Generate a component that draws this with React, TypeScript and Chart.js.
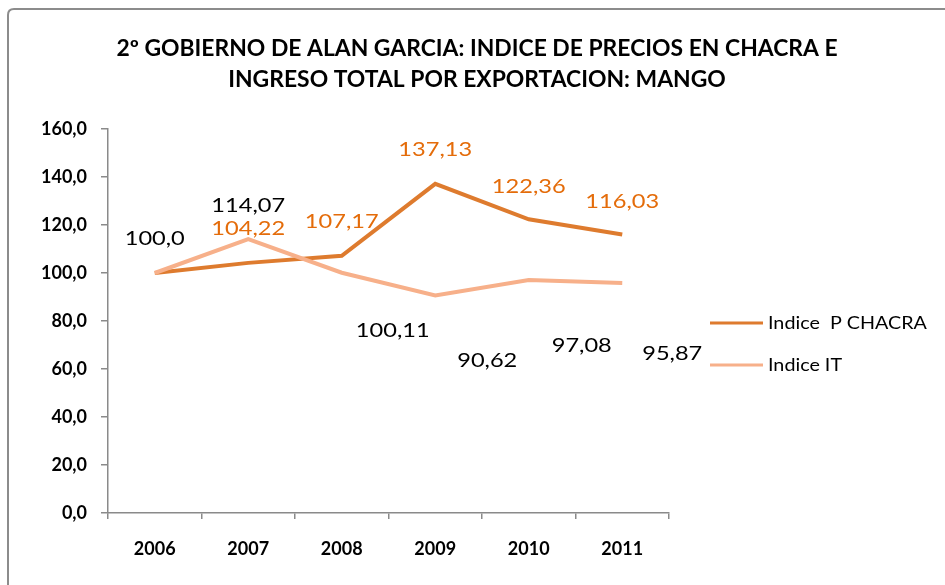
import React, { useEffect, useRef } from "react";
import { Chart, registerables } from "chart.js";

Chart.register(...registerables);

// ---- data ----
const YEARS = ["2006", "2007", "2008", "2009", "2010", "2011"];
const P_CHACRA = [100.0, 104.22, 107.17, 137.13, 122.36, 116.03];
const INDICE_IT = [100.0, 114.07, 100.11, 90.62, 97.08, 95.87];
const P_DECIMALS = [1, 2, 2, 2, 2, 2];
const IT_DECIMALS = [1, 2, 2, 2, 2, 2];
const P_LABEL_SHOWN = [false, true, true, true, true, true];
const IT_LABEL_SHOWN = [true, true, true, true, true, true];
const SERIES_NAMES = ["Indice  P CHACRA", "Indice IT"];
const TITLE_LINES = [
  "2º GOBIERNO DE ALAN GARCIA: INDICE DE PRECIOS EN CHACRA E",
  "INGRESO TOTAL POR EXPORTACION: MANGO",
];
const Y_MIN = 0;
const Y_MAX = 160;
const Y_STEP = 20;

// ---- styles ----
const FONT = "Lato, 'Open Sans', sans-serif";
const COLOR_P = "#DE7B2E";
const COLOR_IT = "#F7B08A";
const LABEL_P = "#E46C0A";
const AXIS = "#8A8A8A";

// label offsets (px) relative to each point, as laid out in the original
const P_OFFSETS = [[0, -34], [0, -34], [0, -34], [0, -34], [0, -33], [0, -33]];
const IT_OFFSETS = [[0, -34], [0, -34], [51, 58], [52, 65], [53, 66], [50, 71]];

const fmt = (v: number, d: number) => v.toFixed(d).replace(".", ",");

function drawText(ctx: CanvasRenderingContext2D, t: string, x: number, y: number, sx: number) {
  ctx.save();
  ctx.translate(x, y);
  ctx.scale(sx, 1);
  ctx.fillText(t, 0, 0);
  ctx.restore();
}

const decorPlugin = {
  id: "decor",
  beforeDraw(chart: any) {
    const ctx = chart.ctx;
    ctx.save();
    ctx.fillStyle = "#ffffff";
    ctx.fillRect(0, 0, chart.width, chart.height);
    ctx.strokeStyle = "#8C8C8C";
    ctx.lineWidth = 2;
    const x = 8, y = 9, w = 960, h = 600, r = 6;
    ctx.beginPath();
    ctx.moveTo(x + w, y);
    ctx.lineTo(x + r, y);
    ctx.quadraticCurveTo(x, y, x, y + r);
    ctx.lineTo(x, y + h);
    ctx.stroke();
    ctx.restore();
  },
  afterDraw(chart: any) {
    const ctx = chart.ctx;
    ctx.save();
    // title
    ctx.fillStyle = "#000";
    ctx.textAlign = "center";
    ctx.textBaseline = "middle";
    ctx.font = `bold 22px ${FONT}`;
    drawText(ctx, TITLE_LINES[0], 477, 49, 1.04);
    drawText(ctx, TITLE_LINES[1], 477, 80, 1.04);

    // data labels
    ctx.font = `20px ${FONT}`;
    const drawLabels = (dsIndex: number, values: number[], dec: number[], shown: boolean[], offs: number[][], color: string) => {
      const meta = chart.getDatasetMeta(dsIndex);
      meta.data.forEach((pt: any, i: number) => {
        if (!shown[i]) return;
        ctx.fillStyle = color;
        drawText(ctx, fmt(values[i], dec[i]), pt.x + offs[i][0], pt.y + offs[i][1], 1.18);
      });
    };
    drawLabels(0, P_CHACRA, P_DECIMALS, P_LABEL_SHOWN, P_OFFSETS, LABEL_P);
    drawLabels(1, INDICE_IT, IT_DECIMALS, IT_LABEL_SHOWN, IT_OFFSETS, "#000");

    // legend
    const lx = 710, ly = [323, 365];
    const cols = [COLOR_P, COLOR_IT];
    ctx.font = `17px ${FONT}`;
    ctx.textAlign = "left";
    for (let i = 0; i < 2; i++) {
      ctx.strokeStyle = cols[i];
      ctx.lineWidth = 3;
      ctx.beginPath();
      ctx.moveTo(lx, ly[i]);
      ctx.lineTo(lx + 53, ly[i]);
      ctx.stroke();
      ctx.fillStyle = "#000";
      drawText(ctx, SERIES_NAMES[i], lx + 58, ly[i] + 1, 1.16);
    }
    ctx.restore();
  },
};

export default function App() {
  const ref = useRef<HTMLCanvasElement | null>(null);
  useEffect(() => {
    if (!ref.current) return;
    const chart = new Chart(ref.current, {
      type: "line",
      data: {
        labels: YEARS,
        datasets: [
          {
            label: SERIES_NAMES[0],
            data: P_CHACRA,
            borderColor: COLOR_P,
            backgroundColor: COLOR_P,
            borderWidth: 4,
            pointRadius: 0,
            tension: 0,
            order: 1,
          },
          {
            label: SERIES_NAMES[1],
            data: INDICE_IT,
            borderColor: COLOR_IT,
            backgroundColor: COLOR_IT,
            borderWidth: 4,
            pointRadius: 0,
            tension: 0,
            order: 0,
          },
        ],
      },
      options: {
        animation: false,
        responsive: false,
        devicePixelRatio: 1,
        layout: { padding: { top: 129, right: 276, left: 0, bottom: 0 } },
        plugins: {
          legend: { display: false },
          title: { display: false },
          tooltip: { enabled: false },
        },
        scales: {
          x: {
            type: "category",
            offset: true,
            grid: {
              display: true,
              drawOnChartArea: false,
              drawTicks: true,
              tickLength: 6,
              color: AXIS,
              lineWidth: 1.5,
              offset: true,
            },
            border: { color: AXIS, width: 1.5 },
            ticks: {
              color: "#000",
              font: { family: FONT, size: 18, weight: "bold" },
              padding: 19,
              maxRotation: 0,
              autoSkip: false,
            },
            afterFit: (s: any) => {
              s.height = 72;
            },
          },
          y: {
            min: Y_MIN,
            max: Y_MAX,
            grid: {
              display: true,
              drawOnChartArea: false,
              drawTicks: true,
              tickLength: 7,
              color: AXIS,
              lineWidth: 1.5,
            },
            border: { color: AXIS, width: 1.5 },
            ticks: {
              stepSize: Y_STEP,
              color: "#000",
              font: { family: FONT, size: 18, weight: "bold" },
              padding: 14,
              callback: (v: any) => fmt(Number(v), 1),
            },
            afterFit: (s: any) => {
              s.width = 108;
            },
          },
        },
      },
      plugins: [decorPlugin],
    });
    return () => chart.destroy();
  }, []);

  return (
    <div style={{ position: "fixed", left: 0, top: 0, width: 945, height: 585, background: "#fff" }}>
      <canvas ref={ref} width={945} height={585} style={{ display: "block", width: 945, height: 585 }} />
    </div>
  );
}
